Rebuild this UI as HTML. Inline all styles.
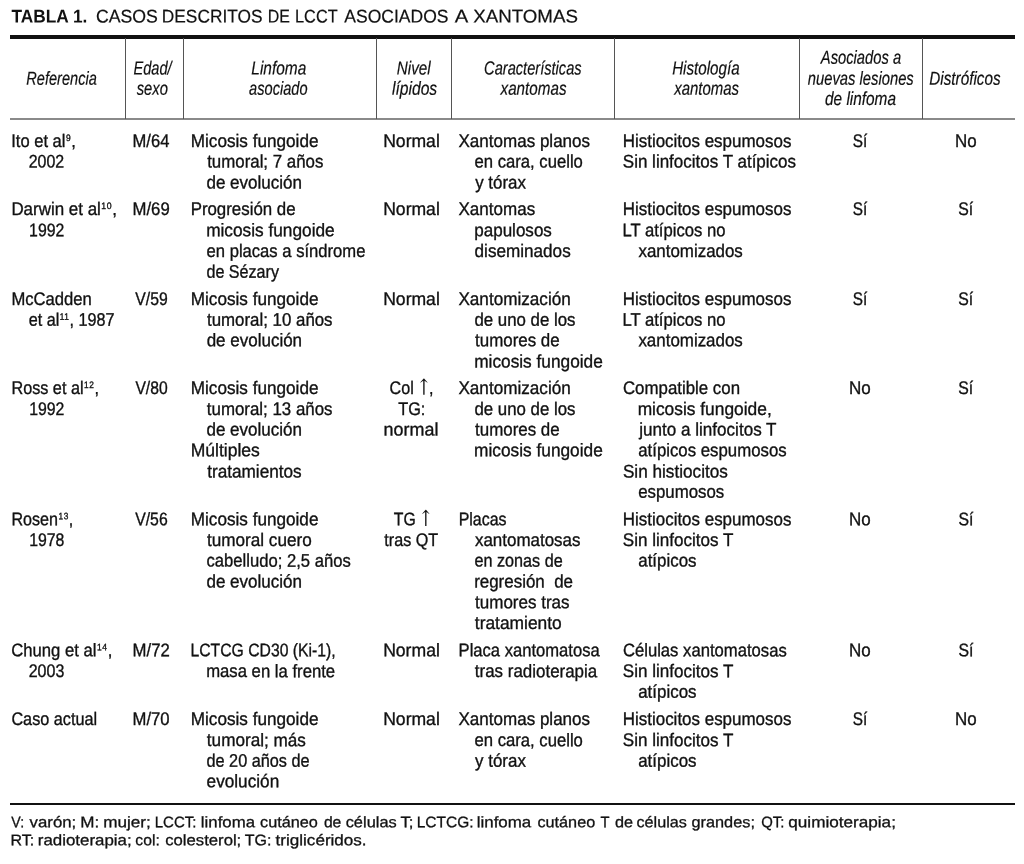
<!DOCTYPE html>
<html lang="es"><head><meta charset="utf-8"><title>Tabla 1</title>
<style>
html,body{margin:0;padding:0;background:#fff}
body{width:1024px;height:864px;position:relative;overflow:hidden;font-family:"Liberation Sans",sans-serif;color:#111}
.l{position:absolute;left:0;top:0;white-space:pre;line-height:1;transform-origin:0 0;display:block}
.b{font-size:18.2px;-webkit-text-stroke:0.35px #111}
.h{font-size:18.9px;font-style:italic;-webkit-text-stroke:0.2px #111}
.t{font-size:18.4px;-webkit-text-stroke:0.2px #111}
.tb{font-size:18.4px;font-weight:bold}
.f{font-size:15.3px;-webkit-text-stroke:0.3px #111}
sup{font-size:9.3px;letter-spacing:0.7px;margin-left:0.5px;vertical-align:baseline;position:relative;top:-5.9px;line-height:0}
.ar{font-family:"DejaVu Math TeX Gyre","DejaVu Sans",sans-serif;font-size:19.5px;position:relative;top:-2.1px;margin-left:1px;line-height:0;-webkit-text-stroke:0}
.r{position:absolute;background:#111}
</style></head><body>
<div class="r" style="left:10px;top:35.3px;width:1004.8px;height:3.4px"></div>
<div class="r" style="left:10px;top:118px;width:1004.8px;height:1.6px;background:#8a8a8a"></div>
<div class="r" style="left:10px;top:802.6px;width:1004.8px;height:2.8px"></div>
<div class="r" style="left:124.85px;top:38px;width:1.2px;height:80.8px;background:#555"></div>
<div class="r" style="left:182.85px;top:38px;width:1.2px;height:80.8px;background:#555"></div>
<div class="r" style="left:375.90px;top:38px;width:1.2px;height:80.8px;background:#555"></div>
<div class="r" style="left:450.85px;top:38px;width:1.2px;height:80.8px;background:#555"></div>
<div class="r" style="left:613.90px;top:38px;width:1.2px;height:80.8px;background:#555"></div>
<div class="r" style="left:799.30px;top:38px;width:1.2px;height:80.8px;background:#555"></div>
<div class="r" style="left:921.90px;top:38px;width:1.2px;height:80.8px;background:#555"></div>
<div class="l tb" id="l0" style="transform:matrix(0.9405,0.0005,0,1,11.42,7.50)">TABLA 1.</div>
<div class="l t" id="l1" style="transform:matrix(0.9631,0.0005,0,1,95.90,7.50)">CASOS</div>
<div class="l t" id="l2" style="transform:matrix(0.9415,0.0005,0,1,161.81,7.50)">DESCRITOS</div>
<div class="l t" id="l3" style="transform:matrix(0.8674,0.0005,0,1,267.76,7.50)">DE</div>
<div class="l t" id="l4" style="transform:matrix(0.8872,0.0005,0,1,295.04,7.50)">LCCT</div>
<div class="l t" id="l5" style="transform:matrix(0.9527,0.0005,0,1,344.34,7.50)">ASOCIADOS</div>
<div class="l t" id="l6" style="transform:matrix(1.1019,0.0005,0,1,454.67,7.50)">A</div>
<div class="l t" id="l7" style="transform:matrix(1.0179,0.0005,0,1,473.16,7.50)">XANTOMAS</div>
<div class="l h" id="l8" style="transform:matrix(0.7718,0.0005,0,1,26.27,69.70)">Referencia</div>
<div class="l h" id="l9" style="transform:matrix(0.7710,0.0005,0,1,133.53,59.60)">Edad/</div>
<div class="l h" id="l10" style="transform:matrix(0.7815,0.0005,0,1,136.72,79.80)">sexo</div>
<div class="l h" id="l11" style="transform:matrix(0.8173,0.0005,0,1,251.29,59.50)">Linfoma</div>
<div class="l h" id="l12" style="transform:matrix(0.7728,0.0005,0,1,249.09,79.80)">asociado</div>
<div class="l h" id="l13" style="transform:matrix(0.8057,0.0005,0,1,396.79,59.50)">Nivel</div>
<div class="l h" id="l14" style="transform:matrix(0.8288,0.0005,0,1,391.92,79.80)">lípidos</div>
<div class="l h" id="l15" style="transform:matrix(0.7745,0.0005,0,1,484.07,59.50)">Características</div>
<div class="l h" id="l16" style="transform:matrix(0.8049,0.0005,0,1,500.56,79.80)">xantomas</div>
<div class="l h" id="l17" style="transform:matrix(0.8024,0.0005,0,1,672.17,59.50)">Histología</div>
<div class="l h" id="l18" style="transform:matrix(0.7917,0.0005,0,1,674.21,79.80)">xantomas</div>
<div class="l h" id="l19" style="transform:matrix(0.7804,0.0005,0,1,820.81,48.80)">Asociados a</div>
<div class="l h" id="l20" style="transform:matrix(0.7822,0.0005,0,1,807.79,69.80)">nuevas lesiones</div>
<div class="l h" id="l21" style="transform:matrix(0.8139,0.0005,0,1,825.04,89.90)">de linfoma</div>
<div class="l h" id="l22" style="transform:matrix(0.8077,0.0005,0,1,929.32,69.80)">Distróficos</div>
<div class="l b" id="l23" style="transform:matrix(0.9094,0.0005,0,1,11.24,132.05)">Ito et al<sup>9</sup>,</div>
<div class="l b" id="l24" style="transform:matrix(0.8769,0.0005,0,1,28.64,152.50)">2002</div>
<div class="l b" id="l25" style="transform:matrix(0.9317,0.0005,0,1,11.38,200.00)">Darwin et al<sup>10</sup>,</div>
<div class="l b" id="l26" style="transform:matrix(0.8697,0.0005,0,1,29.10,221.25)">1992</div>
<div class="l b" id="l27" style="transform:matrix(0.9141,0.0005,0,1,11.41,290.00)">McCadden</div>
<div class="l b" id="l28" style="transform:matrix(0.8889,0.0005,0,1,28.72,310.80)">et al<sup>11</sup>, 1987</div>
<div class="l b" id="l29" style="transform:matrix(0.8913,0.0005,0,1,11.43,379.00)">Ross et al<sup>12</sup>,</div>
<div class="l b" id="l30" style="transform:matrix(0.8702,0.0005,0,1,29.18,400.00)">1992</div>
<div class="l b" id="l31" style="transform:matrix(0.8855,0.0005,0,1,11.44,510.30)">Rosen<sup>13</sup>,</div>
<div class="l b" id="l32" style="transform:matrix(0.8700,0.0005,0,1,29.18,530.90)">1978</div>
<div class="l b" id="l33" style="transform:matrix(0.9156,0.0005,0,1,11.27,641.30)">Chung et al<sup>14</sup>,</div>
<div class="l b" id="l34" style="transform:matrix(0.8802,0.0005,0,1,28.71,662.10)">2003</div>
<div class="l b" id="l35" style="transform:matrix(0.8929,0.0005,0,1,11.39,710.00)">Caso actual</div>
<div class="l b" id="l36" style="transform:matrix(0.9110,0.0005,0,1,132.52,132.05)">M/64</div>
<div class="l b" id="l37" style="transform:matrix(0.9201,0.0005,0,1,132.53,200.00)">M/69</div>
<div class="l b" id="l38" style="transform:matrix(0.8662,0.0005,0,1,135.33,290.00)">V/59</div>
<div class="l b" id="l39" style="transform:matrix(0.8612,0.0005,0,1,135.39,379.00)">V/80</div>
<div class="l b" id="l40" style="transform:matrix(0.8680,0.0005,0,1,135.20,510.30)">V/56</div>
<div class="l b" id="l41" style="transform:matrix(0.9212,0.0005,0,1,132.52,641.30)">M/72</div>
<div class="l b" id="l42" style="transform:matrix(0.9170,0.0005,0,1,132.53,710.00)">M/70</div>
<div class="l b" id="l43" style="transform:matrix(0.9424,0.0005,0,1,190.78,132.05)">Micosis fungoide</div>
<div class="l b" id="l44" style="transform:matrix(0.9267,0.0005,0,1,207.17,152.50)">tumoral; 7 años</div>
<div class="l b" id="l45" style="transform:matrix(0.9352,0.0005,0,1,206.48,173.45)">de evolución</div>
<div class="l b" id="l46" style="transform:matrix(0.9266,0.0005,0,1,190.64,200.00)">Progresión de</div>
<div class="l b" id="l47" style="transform:matrix(0.9488,0.0005,0,1,206.14,221.25)">micosis fungoide</div>
<div class="l b" id="l48" style="transform:matrix(0.9133,0.0005,0,1,206.56,242.00)">en placas a síndrome</div>
<div class="l b" id="l49" style="transform:matrix(0.8857,0.0005,0,1,206.47,262.80)">de Sézary</div>
<div class="l b" id="l50" style="transform:matrix(0.9424,0.0005,0,1,190.78,290.00)">Micosis fungoide</div>
<div class="l b" id="l51" style="transform:matrix(0.9265,0.0005,0,1,207.03,310.80)">tumoral; 10 años</div>
<div class="l b" id="l52" style="transform:matrix(0.9345,0.0005,0,1,206.63,331.30)">de evolución</div>
<div class="l b" id="l53" style="transform:matrix(0.9424,0.0005,0,1,190.78,379.00)">Micosis fungoide</div>
<div class="l b" id="l54" style="transform:matrix(0.9274,0.0005,0,1,206.85,400.00)">tumoral; 13 años</div>
<div class="l b" id="l55" style="transform:matrix(0.9352,0.0005,0,1,206.48,420.50)">de evolución</div>
<div class="l b" id="l56" style="transform:matrix(0.9634,0.0005,0,1,190.68,441.20)">Múltiples</div>
<div class="l b" id="l57" style="transform:matrix(0.9442,0.0005,0,1,207.17,462.50)">tratamientos</div>
<div class="l b" id="l58" style="transform:matrix(0.9426,0.0005,0,1,190.74,510.30)">Micosis fungoide</div>
<div class="l b" id="l59" style="transform:matrix(0.9420,0.0005,0,1,206.98,530.90)">tumoral cuero</div>
<div class="l b" id="l60" style="transform:matrix(0.9144,0.0005,0,1,206.53,551.60)">cabelludo; 2,5 años</div>
<div class="l b" id="l61" style="transform:matrix(0.9352,0.0005,0,1,206.48,572.40)">de evolución</div>
<div class="l b" id="l62" style="transform:matrix(0.8656,0.0005,0,1,190.50,641.30)">LCTCG CD30 (Ki-1),</div>
<div class="l b" id="l63" style="transform:matrix(0.9174,0.0005,0,1,206.18,662.10)">masa en la frente</div>
<div class="l b" id="l64" style="transform:matrix(0.9424,0.0005,0,1,190.78,710.00)">Micosis fungoide</div>
<div class="l b" id="l65" style="transform:matrix(0.9425,0.0005,0,1,206.84,731.10)">tumoral; más</div>
<div class="l b" id="l66" style="transform:matrix(0.8941,0.0005,0,1,206.50,751.70)">de 20 años de</div>
<div class="l b" id="l67" style="transform:matrix(0.9446,0.0005,0,1,206.60,772.20)">evolución</div>
<div class="l b" id="l68" style="transform:matrix(0.9659,0.0005,0,1,383.17,132.05)">Normal</div>
<div class="l b" id="l69" style="transform:matrix(0.9659,0.0005,0,1,383.17,200.00)">Normal</div>
<div class="l b" id="l70" style="transform:matrix(0.9659,0.0005,0,1,383.17,290.00)">Normal</div>
<div class="l b" id="l71" style="transform:matrix(0.8860,0.0005,0,1,389.53,379.00)">Col <span class="ar">↑</span>,</div>
<div class="l b" id="l72" style="transform:matrix(0.8953,0.0005,0,1,398.23,400.00)">TG:</div>
<div class="l b" id="l73" style="transform:matrix(0.9848,0.0005,0,1,383.62,420.50)">normal</div>
<div class="l b" id="l74" style="transform:matrix(0.8689,0.0005,0,1,393.79,510.30)">TG <span class="ar">↑</span></div>
<div class="l b" id="l75" style="transform:matrix(0.8879,0.0005,0,1,384.32,530.90)">tras QT</div>
<div class="l b" id="l76" style="transform:matrix(0.9675,0.0005,0,1,383.13,641.30)">Normal</div>
<div class="l b" id="l77" style="transform:matrix(0.9659,0.0005,0,1,383.17,710.00)">Normal</div>
<div class="l b" id="l78" style="transform:matrix(0.9360,0.0005,0,1,458.52,132.05)">Xantomas planos</div>
<div class="l b" id="l79" style="transform:matrix(0.9164,0.0005,0,1,474.49,152.50)">en cara, cuello</div>
<div class="l b" id="l80" style="transform:matrix(0.9295,0.0005,0,1,475.13,173.45)">y tórax</div>
<div class="l b" id="l81" style="transform:matrix(0.9360,0.0005,0,1,458.52,200.00)">Xantomas</div>
<div class="l b" id="l82" style="transform:matrix(0.9364,0.0005,0,1,474.22,221.25)">papulosos</div>
<div class="l b" id="l83" style="transform:matrix(0.9415,0.0005,0,1,474.56,242.00)">diseminados</div>
<div class="l b" id="l84" style="transform:matrix(0.9416,0.0005,0,1,458.41,290.00)">Xantomización</div>
<div class="l b" id="l85" style="transform:matrix(0.9255,0.0005,0,1,474.44,310.80)">de uno de los</div>
<div class="l b" id="l86" style="transform:matrix(0.9296,0.0005,0,1,475.10,331.30)">tumores de</div>
<div class="l b" id="l87" style="transform:matrix(0.9497,0.0005,0,1,474.16,352.40)">micosis fungoide</div>
<div class="l b" id="l88" style="transform:matrix(0.9416,0.0005,0,1,458.41,379.00)">Xantomización</div>
<div class="l b" id="l89" style="transform:matrix(0.9252,0.0005,0,1,474.45,400.00)">de uno de los</div>
<div class="l b" id="l90" style="transform:matrix(0.9292,0.0005,0,1,475.12,420.50)">tumores de</div>
<div class="l b" id="l91" style="transform:matrix(0.9494,0.0005,0,1,474.12,441.20)">micosis fungoide</div>
<div class="l b" id="l92" style="transform:matrix(0.8775,0.0005,0,1,458.63,510.30)">Placas</div>
<div class="l b" id="l93" style="transform:matrix(0.9326,0.0005,0,1,474.92,530.90)">xantomatosas</div>
<div class="l b" id="l94" style="transform:matrix(0.8892,0.0005,0,1,474.52,551.60)">en zonas de</div>
<div class="l b" id="l95" style="transform:matrix(0.9317,0.0005,0,1,474.13,572.40)">regresión  de</div>
<div class="l b" id="l96" style="transform:matrix(0.9352,0.0005,0,1,475.06,593.30)">tumores tras</div>
<div class="l b" id="l97" style="transform:matrix(0.9550,0.0005,0,1,474.84,614.00)">tratamiento</div>
<div class="l b" id="l98" style="transform:matrix(0.9122,0.0005,0,1,458.59,641.30)">Placa xantomatosa</div>
<div class="l b" id="l99" style="transform:matrix(0.9311,0.0005,0,1,474.84,662.10)">tras radioterapia</div>
<div class="l b" id="l100" style="transform:matrix(0.9360,0.0005,0,1,458.52,710.00)">Xantomas planos</div>
<div class="l b" id="l101" style="transform:matrix(0.9167,0.0005,0,1,474.46,731.10)">en cara, cuello</div>
<div class="l b" id="l102" style="transform:matrix(0.9297,0.0005,0,1,475.11,751.70)">y tórax</div>
<div class="l b" id="l103" style="transform:matrix(0.9322,0.0005,0,1,622.72,132.05)">Histiocitos espumosos</div>
<div class="l b" id="l104" style="transform:matrix(0.9346,0.0005,0,1,622.82,152.50)">Sin linfocitos T atípicos</div>
<div class="l b" id="l105" style="transform:matrix(0.9325,0.0005,0,1,622.72,200.00)">Histiocitos espumosos</div>
<div class="l b" id="l106" style="transform:matrix(0.9156,0.0005,0,1,622.39,221.25)">LT atípicos no</div>
<div class="l b" id="l107" style="transform:matrix(0.9302,0.0005,0,1,638.45,242.00)">xantomizados</div>
<div class="l b" id="l108" style="transform:matrix(0.9325,0.0005,0,1,622.72,290.00)">Histiocitos espumosos</div>
<div class="l b" id="l109" style="transform:matrix(0.9159,0.0005,0,1,622.39,310.80)">LT atípicos no</div>
<div class="l b" id="l110" style="transform:matrix(0.9303,0.0005,0,1,638.41,331.30)">xantomizados</div>
<div class="l b" id="l111" style="transform:matrix(0.9262,0.0005,0,1,622.95,379.00)">Compatible con</div>
<div class="l b" id="l112" style="transform:matrix(0.9542,0.0005,0,1,637.63,400.00)">micosis fungoide,</div>
<div class="l b" id="l113" style="transform:matrix(0.9389,0.0005,0,1,639.22,420.50)">junto a linfocitos T</div>
<div class="l b" id="l114" style="transform:matrix(0.9232,0.0005,0,1,638.23,441.20)">atípicos espumosos</div>
<div class="l b" id="l115" style="transform:matrix(0.9436,0.0005,0,1,622.91,462.50)">Sin histiocitos</div>
<div class="l b" id="l116" style="transform:matrix(0.9252,0.0005,0,1,638.22,482.80)">espumosos</div>
<div class="l b" id="l117" style="transform:matrix(0.9320,0.0005,0,1,622.77,510.30)">Histiocitos espumosos</div>
<div class="l b" id="l118" style="transform:matrix(0.9374,0.0005,0,1,622.77,530.90)">Sin linfocitos T</div>
<div class="l b" id="l119" style="transform:matrix(0.9300,0.0005,0,1,638.22,551.60)">atípicos</div>
<div class="l b" id="l120" style="transform:matrix(0.9154,0.0005,0,1,622.92,641.30)">Células xantomatosas</div>
<div class="l b" id="l121" style="transform:matrix(0.9377,0.0005,0,1,622.77,662.10)">Sin linfocitos T</div>
<div class="l b" id="l122" style="transform:matrix(0.9305,0.0005,0,1,638.19,682.80)">atípicos</div>
<div class="l b" id="l123" style="transform:matrix(0.9325,0.0005,0,1,622.72,710.00)">Histiocitos espumosos</div>
<div class="l b" id="l124" style="transform:matrix(0.9377,0.0005,0,1,622.77,731.10)">Sin linfocitos T</div>
<div class="l b" id="l125" style="transform:matrix(0.9305,0.0005,0,1,638.19,751.70)">atípicos</div>
<div class="l b" id="l126" style="transform:matrix(0.8443,0.0005,0,1,852.68,132.05)">Sí</div>
<div class="l b" id="l127" style="transform:matrix(0.8443,0.0005,0,1,852.68,200.00)">Sí</div>
<div class="l b" id="l128" style="transform:matrix(0.8443,0.0005,0,1,852.68,290.00)">Sí</div>
<div class="l b" id="l129" style="transform:matrix(0.9352,0.0005,0,1,849.07,379.00)">No</div>
<div class="l b" id="l130" style="transform:matrix(0.9327,0.0005,0,1,849.01,510.30)">No</div>
<div class="l b" id="l131" style="transform:matrix(0.9327,0.0005,0,1,849.01,641.30)">No</div>
<div class="l b" id="l132" style="transform:matrix(0.8443,0.0005,0,1,852.68,710.00)">Sí</div>
<div class="l b" id="l133" style="transform:matrix(0.9318,0.0005,0,1,955.09,132.05)">No</div>
<div class="l b" id="l134" style="transform:matrix(0.8692,0.0005,0,1,958.33,200.00)">Sí</div>
<div class="l b" id="l135" style="transform:matrix(0.8692,0.0005,0,1,958.33,290.00)">Sí</div>
<div class="l b" id="l136" style="transform:matrix(0.8692,0.0005,0,1,958.33,379.00)">Sí</div>
<div class="l b" id="l137" style="transform:matrix(0.8701,0.0005,0,1,958.39,510.30)">Sí</div>
<div class="l b" id="l138" style="transform:matrix(0.8701,0.0005,0,1,958.39,641.30)">Sí</div>
<div class="l b" id="l139" style="transform:matrix(0.9318,0.0005,0,1,955.09,710.00)">No</div>
<div class="l f" id="l140" style="transform:matrix(0.9260,0.0005,0,1,11.31,814.30)">V:</div>
<div class="l f" id="l141" style="transform:matrix(1.0972,0.0005,0,1,29.58,814.30)">varón;</div>
<div class="l f" id="l142" style="transform:matrix(1.1174,0.0005,0,1,80.30,814.30)">M:</div>
<div class="l f" id="l143" style="transform:matrix(1.1202,0.0005,0,1,103.14,814.30)">mujer;</div>
<div class="l f" id="l144" style="transform:matrix(0.9795,0.0005,0,1,154.74,814.30)">LCCT:</div>
<div class="l f" id="l145" style="transform:matrix(1.0981,0.0005,0,1,200.84,814.30)">linfoma</div>
<div class="l f" id="l146" style="transform:matrix(1.0632,0.0005,0,1,260.01,814.30)">cutáneo</div>
<div class="l f" id="l147" style="transform:matrix(1.0264,0.0005,0,1,323.89,814.30)">de</div>
<div class="l f" id="l148" style="transform:matrix(1.0714,0.0005,0,1,345.68,814.30)">células</div>
<div class="l f" id="l149" style="transform:matrix(1.0957,0.0005,0,1,400.49,814.30)">T;</div>
<div class="l f" id="l150" style="transform:matrix(1.0110,0.0005,0,1,416.75,814.30)">LCTCG:</div>
<div class="l f" id="l151" style="transform:matrix(1.1056,0.0005,0,1,476.72,814.30)">linfoma</div>
<div class="l f" id="l152" style="transform:matrix(1.0611,0.0005,0,1,537.44,814.30)">cutáneo</div>
<div class="l f" id="l153" style="transform:matrix(0.9631,0.0005,0,1,600.62,814.30)">T</div>
<div class="l f" id="l154" style="transform:matrix(1.0602,0.0005,0,1,615.04,814.30)">de</div>
<div class="l f" id="l155" style="transform:matrix(1.0575,0.0005,0,1,636.50,814.30)">células</div>
<div class="l f" id="l156" style="transform:matrix(1.0652,0.0005,0,1,691.51,814.30)">grandes;</div>
<div class="l f" id="l157" style="transform:matrix(0.9735,0.0005,0,1,761.18,814.30)">QT:</div>
<div class="l f" id="l158" style="transform:matrix(1.1202,0.0005,0,1,788.27,814.30)">quimioterapia;</div>
<div class="l f" id="l159" style="transform:matrix(1.0457,0.0005,0,1,10.45,832.20)">RT:</div>
<div class="l f" id="l160" style="transform:matrix(1.1038,0.0005,0,1,37.76,832.20)">radioterapia;</div>
<div class="l f" id="l161" style="transform:matrix(1.0253,0.0005,0,1,135.36,832.20)">col:</div>
<div class="l f" id="l162" style="transform:matrix(1.0916,0.0005,0,1,165.16,832.20)">colesterol;</div>
<div class="l f" id="l163" style="transform:matrix(1.0441,0.0005,0,1,244.74,832.20)">TG:</div>
<div class="l f" id="l164" style="transform:matrix(1.1159,0.0005,0,1,275.55,832.20)">triglicéridos.</div>
</body></html>
